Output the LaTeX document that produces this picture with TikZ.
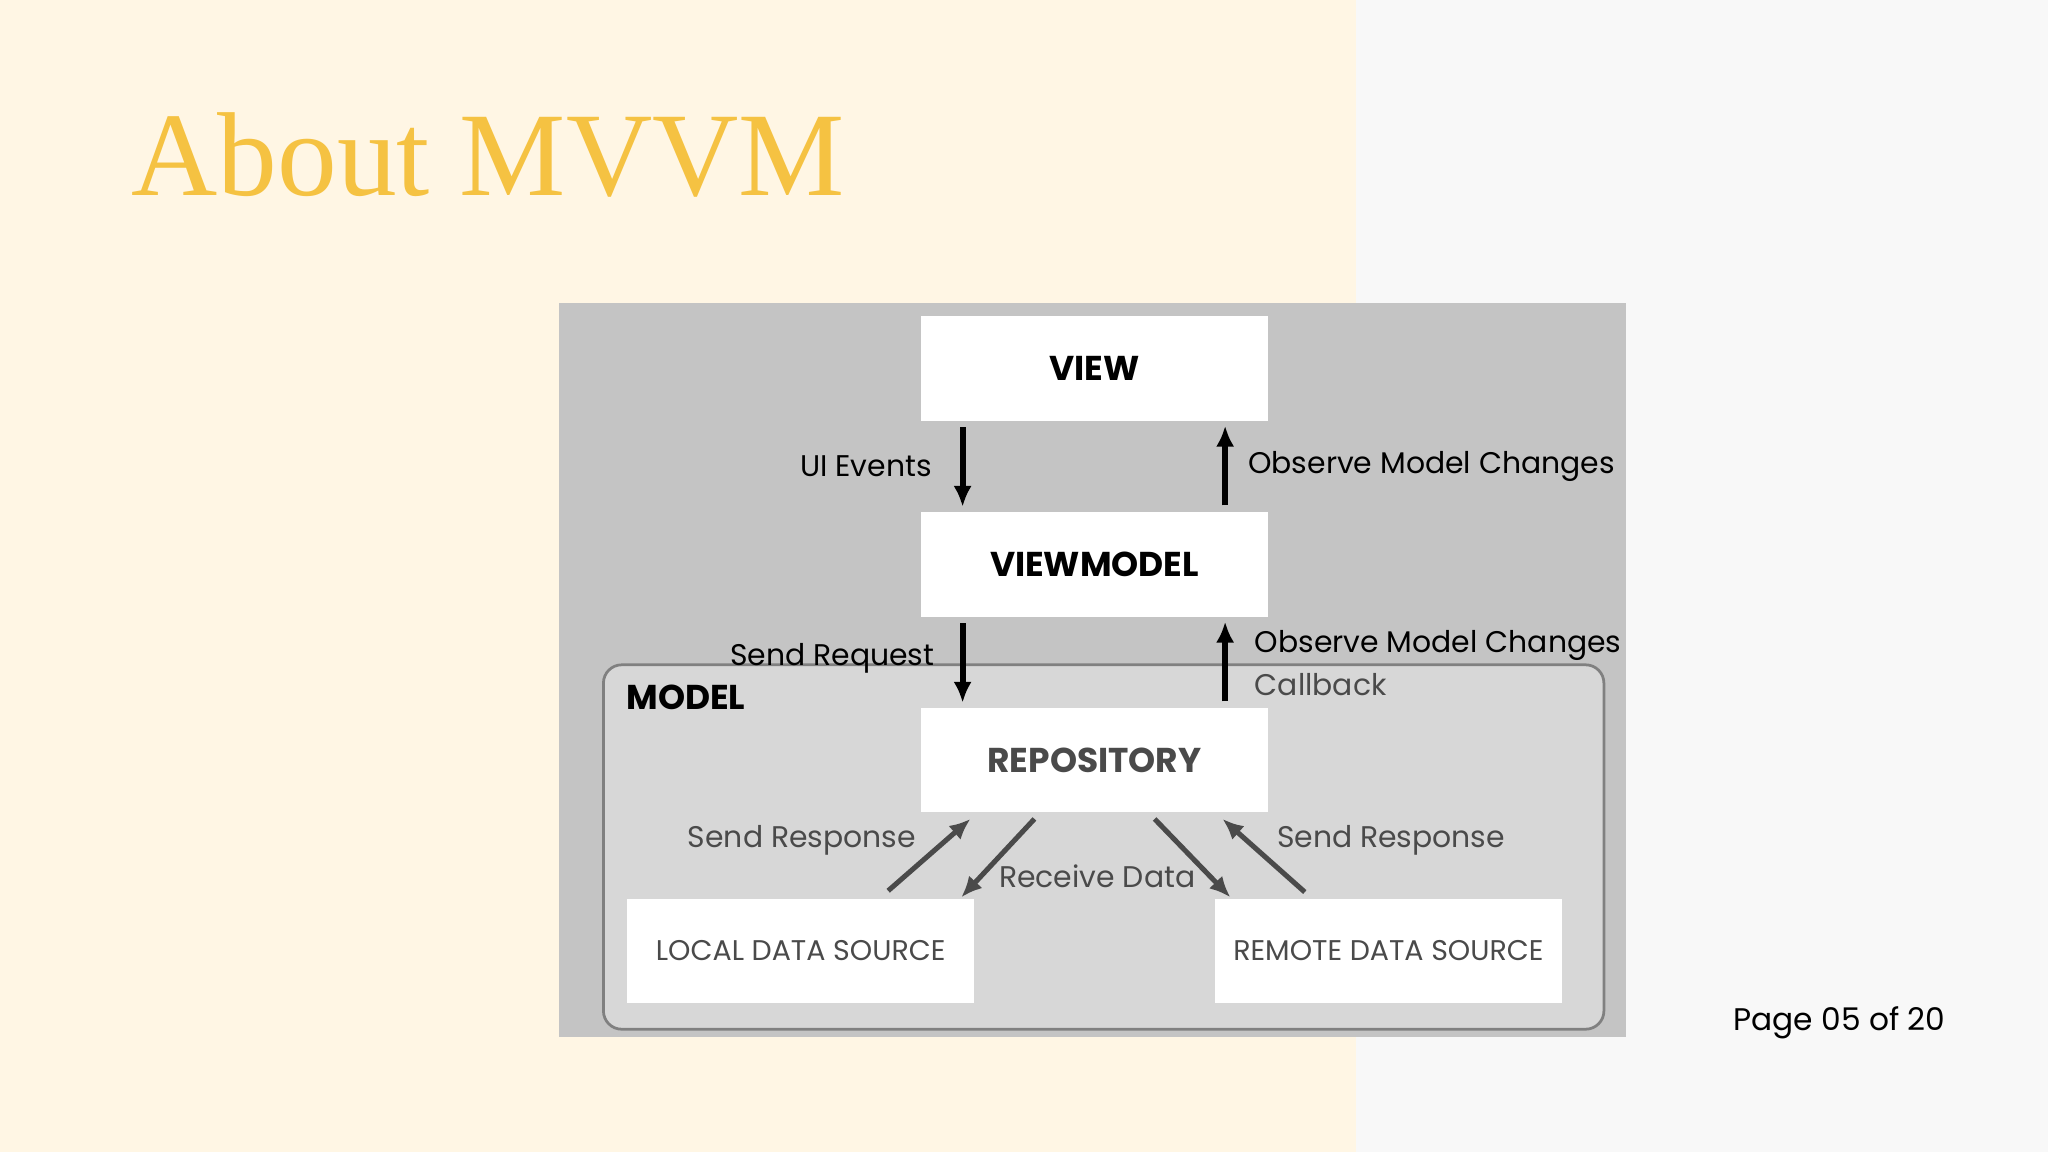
\documentclass[tikz,border=0pt]{standalone}
\usepackage{fontspec}
\setmainfont{Poppins}
\newfontfamily\titlefont{Liberation Serif}
\usetikzlibrary{arrows.meta,positioning}
\definecolor{cream}{HTML}{FFF6E4}
\definecolor{offwhite}{HTML}{F8F8F8}
\definecolor{gold}{HTML}{F5C242}
\definecolor{panel}{HTML}{C4C4C4}
\definecolor{modelbg}{HTML}{D7D7D7}
\definecolor{dgray}{HTML}{4A4A4A}
\tikzset{
  box/.style={draw=none,fill=white,align=center,minimum width=2.66cm,minimum height=0.8cm,inner sep=0pt},
  lbl/.style={font=\fontsize{6.5pt}{8pt}\selectfont,inner sep=0pt},
  arrow/.style={-{Latex[length=1.6mm,width=1.4mm]},line width=1.3pt,draw=black},
  garrow/.style={-{Latex[length=1.6mm,width=1.4mm]},line width=1.1pt,draw=dgray}
}
\begin{document}
\begin{tikzpicture}[x=0.01cm,y=-0.01cm]
  \useasboundingbox (0,0) rectangle (1568,882);
  \fill[cream] (0,0) rectangle (1038,882);
  \fill[offwhite] (1038,0) rectangle (1568,882);
  \node (title) [anchor=base west,text=gold,inner sep=0pt,font=\titlefont\fontsize{26pt}{28pt}\selectfont] at (100,150) {About MVVM};
  \node (page) [anchor=base east,inner sep=0pt,font=\fontsize{6.8pt}{8pt}\selectfont] at (1490,789) {Page 05 of 20};

  % diagram panel
  \fill[panel] (428,232) rectangle (1245,794);
  \draw[fill=modelbg,draw=gray,line width=0.6pt,rounded corners=0.14cm] (462,509) rectangle (1228,788);
  \node (model) [anchor=north west,font=\bfseries\fontsize{7.5pt}{9pt}\selectfont,inner sep=0pt] at (479,524) {MODEL};

  \node (view) [box,font=\bfseries\fontsize{7.5pt}{9pt}\selectfont] at (838,282) {VIEW};
  \node (vm) [box,font=\bfseries\fontsize{7.5pt}{9pt}\selectfont] at (838,432) {VIEWMODEL};
  \node (repo) [box,text=dgray,font=\bfseries\fontsize{7.5pt}{9pt}\selectfont] at (838,582) {REPOSITORY};
  \node (local) [box,text=dgray,font=\fontsize{6.2pt}{8pt}\selectfont] at (613,728) {LOCAL DATA SOURCE};
  \node (remote) [box,text=dgray,font=\fontsize{6.2pt}{8pt}\selectfont] at (1063,728) {REMOTE DATA SOURCE};

  \draw[arrow] (737,327) -- (737,388);
  \draw[arrow] (938,387) -- (938,326);
  \draw[arrow] (737,477) -- (737,538);
  \draw[arrow] (938,537) -- (938,476);
  \draw[garrow] (680,682) -- (743,627);
  \draw[garrow] (792,627) -- (736,687);
  \draw[garrow] (884,627) -- (942,687);
  \draw[garrow] (999,683) -- (936,627);

  \node (uiev) [lbl,anchor=east] at (714,357) {UI Events};
  \node (obs1) [lbl,anchor=west] at (955,357) {Observe Model Changes};
  \node (sreq) [lbl,anchor=east] at (716,504) {Send Request};
  \node (obs2) [lbl,anchor=west] at (960,494) {Observe Model Changes};
  \node (cb) [lbl,anchor=west,text=dgray] at (960,524) {Callback};
  \node (resp1) [lbl,anchor=east,text=dgray] at (702,643) {Send Response};
  \node (recv) [lbl,text=dgray] at (840,671) {Receive Data};
  \node (resp2) [lbl,anchor=west,text=dgray] at (977,643) {Send Response};
\end{tikzpicture}
\end{document}
